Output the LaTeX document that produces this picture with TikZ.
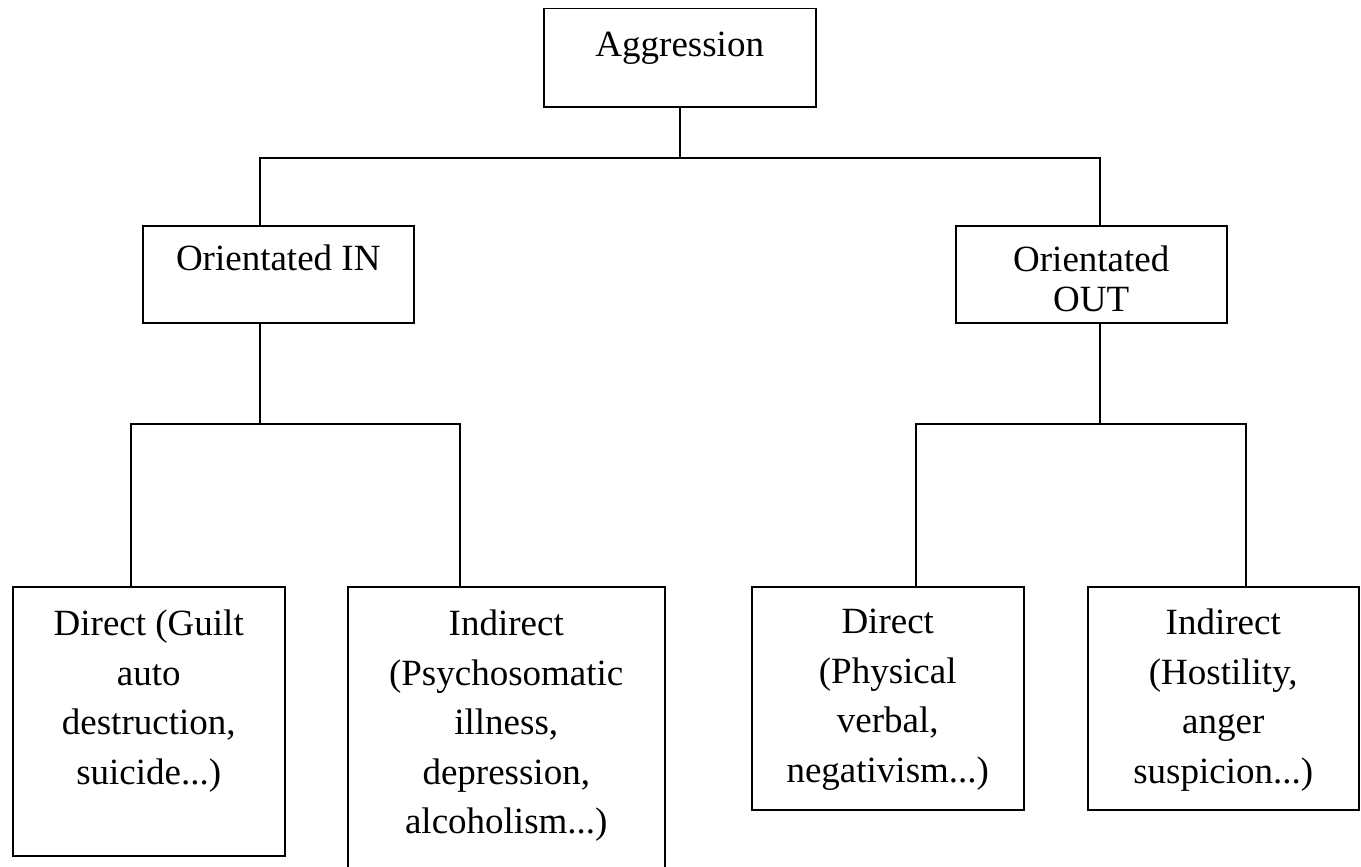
\documentclass[tikz,border=0pt]{standalone}
\usepackage{fontspec}
\setmainfont{Liberation Serif}
\usetikzlibrary{positioning}

\begin{document}
\begin{tikzpicture}[x=1pt, y=-1pt,
  box/.style={draw, line width=1.5pt, inner sep=0pt, anchor=north west},
  txt/.style={inner sep=0pt, anchor=north, align=center,
    font=\fontsize{37}{49.5}\selectfont},
  link/.style={line width=1.5pt}]
  % page
  \useasboundingbox (0,0) rectangle (1361,867);
  \fill[white] (0,0) rectangle (1361,867);
  \clip (0,0) rectangle (1361,867);
  % boxes
  \node[box, minimum width=272pt, minimum height=98pt] (agg) at (543,8) {};
  \node[box, minimum width=271pt, minimum height=97pt] (in) at (142,225) {};
  \node[box, minimum width=271pt, minimum height=97pt] (out) at (955,225) {};
  \node[box, minimum width=272pt, minimum height=269pt] (dg) at (12,586) {};
  \node[box, minimum width=317pt, minimum height=320pt] (ip) at (347,586) {};
  \node[box, minimum width=272pt, minimum height=223pt] (dp) at (751,586) {};
  \node[box, minimum width=271pt, minimum height=223pt] (ih) at (1087,586) {};
  % texts
  \node[txt, below=24pt of agg.north] (aggtxt) {Aggression};
  \node[txt, below=20pt of in.north] (intxt) {Orientated IN};
  \begin{scope}
    \clip (955,225) rectangle (1226,313);
    \node[txt, font=\fontsize{37}{40}\selectfont, below=21pt of out.north] (outtxt) {Orientated\\OUT};
  \end{scope}
  \node[txt, below=24pt of dg.north] (dgtxt) {Direct (Guilt\\auto\\destruction,\\suicide...)};
  \node[txt, below=24pt of ip.north] (iptxt) {Indirect\\(Psychosomatic\\illness,\\depression,\\alcoholism...)};
  \node[txt, below=23pt of dp.north] (dptxt) {Direct\\(Physical\\verbal,\\negativism...)};
  \node[txt, below=23pt of ih.north] (ihtxt) {Indirect\\(Hostility,\\anger\\suspicion...)};
  % connectors
  \coordinate (barA) at (260,158);
  \coordinate (barB) at (1100,158);
  \coordinate (inbarL) at (131,424);
  \coordinate (inbarR) at (460,424);
  \coordinate (outbarL) at (916,424);
  \coordinate (outbarR) at (1246,424);
  \draw[link] (agg.south) -- (agg.south |- barA);
  \draw[link] (in.north -| barA) -- (barA) -- (barB) -- (out.north -| barB);
  \draw[link] (in.south -| barA) -- (barA |- inbarL);
  \draw[link] (dg.north -| inbarL) -- (inbarL) -- (inbarR) -- (ip.north -| inbarR);
  \draw[link] (out.south -| barB) -- (barB |- outbarL);
  \draw[link] (dp.north -| outbarL) -- (outbarL) -- (outbarR) -- (ih.north -| outbarR);
\end{tikzpicture}
\end{document}
